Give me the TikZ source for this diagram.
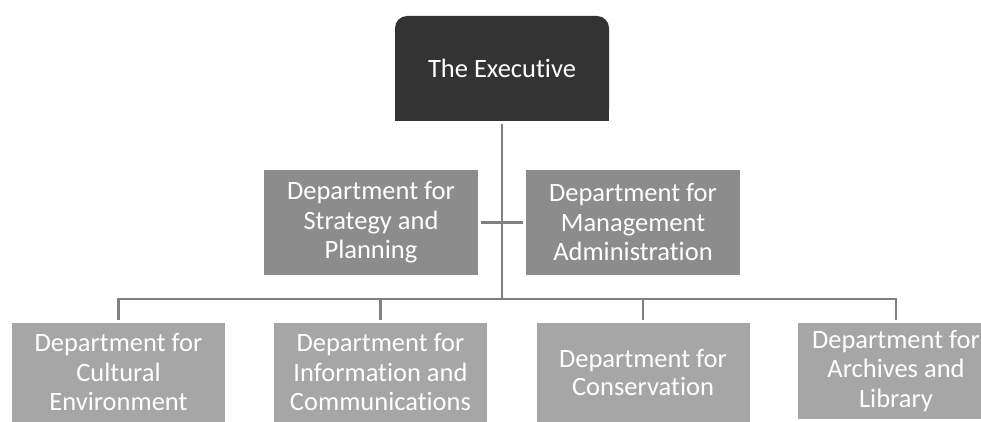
\documentclass[tikz,border=0pt]{standalone}
\usepackage{fontspec}
\setmainfont{Carlito}[Ligatures=NoCommon]
\usetikzlibrary{backgrounds}
\definecolor{execfill}{HTML}{333333}
\definecolor{midfill}{HTML}{8C8C8C}
\definecolor{lowfill}{HTML}{A6A6A6}
\definecolor{linkgray}{HTML}{808080}
\begin{document}
\begin{tikzpicture}[x=1pt, y=-1pt,
  box/.style={rectangle, inner sep=0pt, outer sep=0pt, align=center,
    text=white, font=\fontsize{26.5}{29.5}\selectfont},
  execbox/.style={box, minimum width=214pt, minimum height=105pt},
  midbox/.style={box, fill=midfill, minimum width=214pt, minimum height=105pt},
  lowbox/.style={box, fill=lowfill, minimum width=213pt, minimum height=99pt},
  conn/.style={draw=linkgray, line width=2.5pt}]
  \useasboundingbox (0,0) rectangle (981,422);
  \clip (0,0) rectangle (981,422);

  % top box: text node, shape filled underneath
  \node[execbox] (exec) at (502,68.5) {The Executive};
  \begin{scope}[on background layer]
    \fill[execfill, rounded corners=12pt] (exec.north west) rectangle (exec.south east);
    \fill[execfill] (exec.west) rectangle (exec.south east);
  \end{scope}

  % staff departments
  \node[midbox] (strat) at (371,222.5) {Department for\\Strategy and\\Planning};
  \node[midbox] (mgmt) at (633,222.5) {Department for\\Management\\Administration};

  % line departments
  \node[lowbox] (cult) at (118.5,372.5) {Department for\\Cultural\\Environment};
  \node[lowbox] (info) at (380.5,372.5) {Department for\\Information and\\Communications};
  \node[lowbox] (cons) at (643,372.5) {\raisebox{-3pt}{\shortstack{Department for\\[3pt]Conservation}}};
  \node[lowbox, minimum width=196pt, minimum height=96pt] (arch) at (896,371) {Department for\\Archives and\\Library};

  \coordinate (bus) at (502,299);

  % connectors
  \draw[conn, shorten <=3pt] (exec.south) -- (bus);
  \draw[conn, shorten <=3pt, shorten >=3pt] (strat.east) -- (mgmt.west);
  \draw[conn, shorten <=3pt, shorten >=3pt] (cult.north) -- (cult.north |- bus) -| (arch.north);
  \draw[conn, shorten >=3pt] (info.north |- bus) -- (info.north);
  \draw[conn, shorten >=3pt] (cons.north |- bus) -- (cons.north);
\end{tikzpicture}
\end{document}
